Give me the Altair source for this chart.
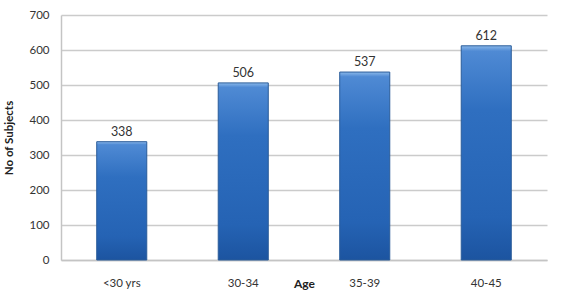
import altair as alt
import pandas as pd

categories = ["<30 yrs", "30-34", "35-39", "40-45"]
values = [338, 506, 537, 612]
y_ticks = [0, 100, 200, 300, 400, 500, 600, 700]

df = pd.DataFrame({"age": categories, "n": values})

FONT = "Lato"

x_enc = alt.X(
    "age:N",
    sort=categories,
    scale=alt.Scale(paddingInner=0.588, paddingOuter=0.294),
    axis=alt.Axis(
        title="Age",
        labelAngle=0,
        ticks=False,
        domain=True,
        domainColor="#c4c4c4",
        domainWidth=1.5,
        grid=False,
        labelPadding=17,
        labelFontSize=11.5,
        labelColor="#333333",
        labelFont=FONT,
        titleFont=FONT,
        titleFontSize=12,
        titleFontWeight="bold",
        titleColor="#222222",
        titleY=23,
        titleBaseline="middle",
    ),
)
y_enc = alt.Y(
    "n:Q",
    scale=alt.Scale(domain=[0, 700], nice=False),
    axis=alt.Axis(
        title="No of Subjects",
        values=y_ticks,
        labelOverlap=False,
        ticks=False,
        domain=True,
        domainColor="#c4c4c4",
        domainWidth=1.5,
        grid=True,
        gridColor="#cbcbcb",
        gridWidth=1.5,
        labelPadding=12,
        labelFontSize=11.5,
        labelColor="#333333",
        labelFont=FONT,
        titleFont=FONT,
        titleFontSize=11.5,
        titleFontWeight="bold",
        titleColor="#222222",
        titlePadding=14,
    ),
)

grad = alt.Gradient(
    gradient="linear",
    x1=0, x2=0, y1=0, y2=1,
    stops=[
        alt.GradientStop(color="#8ab8ea", offset=0),
        alt.GradientStop(color="#4f8ad4", offset=0.025),
        alt.GradientStop(color="#2f6fc0", offset=0.3),
        alt.GradientStop(color="#2563b4", offset=0.8),
        alt.GradientStop(color="#1c54a0", offset=1),
    ],
)

base = alt.Chart(df).encode(x=x_enc, y=y_enc)
bars = base.mark_bar(color=grad, stroke="#2a5c99", strokeWidth=1)
labels = base.mark_text(
    baseline="bottom", dy=-3, fontSize=12.5, font=FONT, color="#333333"
).encode(text="n:Q")

chart = (
    alt.layer(bars, labels)
    .properties(
        width=486,
        height=245,
        autosize="none",
        background="white",
        padding={"left": 61, "top": 15, "right": 16, "bottom": 37},
    )
    .configure_view(stroke="transparent", strokeWidth=0)
)

chart.save("out.html", embed_options={"renderer": "svg", "actions": False})
